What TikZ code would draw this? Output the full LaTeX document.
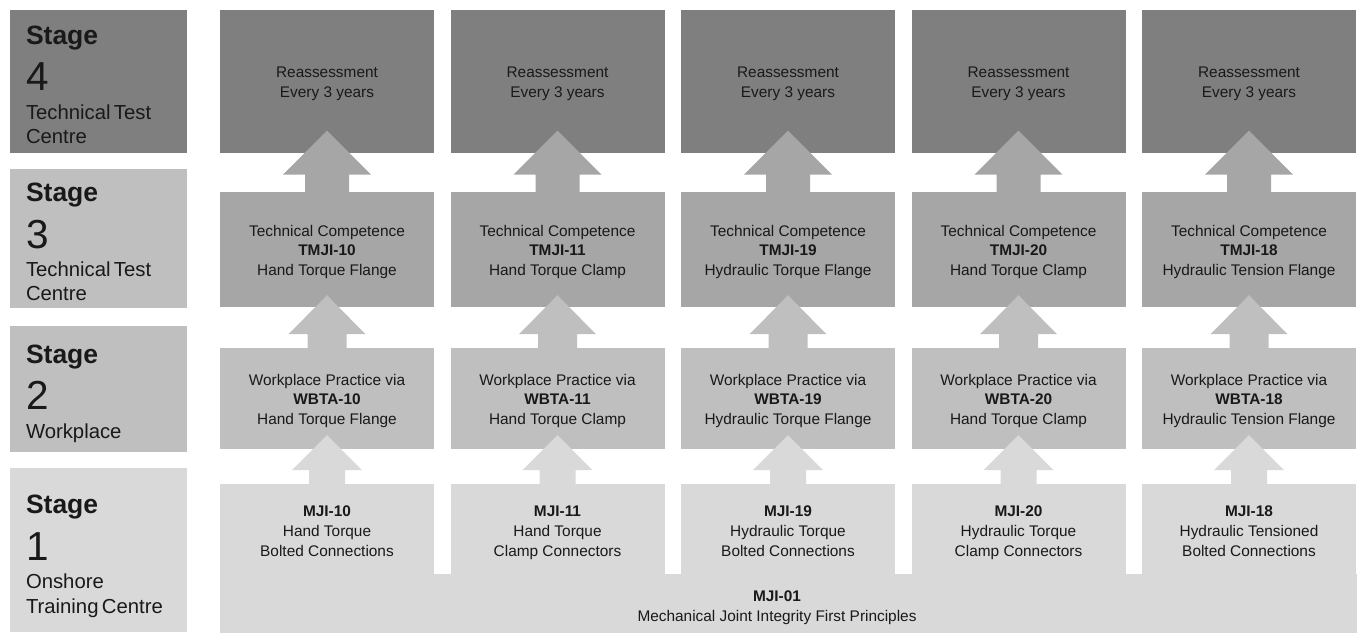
\documentclass[tikz,border=0pt]{standalone}
\usepackage{fontspec}
\setmainfont{Liberation Sans}
\usetikzlibrary{calc}
\setlength{\parindent}{0pt}
\definecolor{gfour}{HTML}{7F7F7F}
\definecolor{gthree}{HTML}{A6A6A6}
\definecolor{gtwo}{HTML}{BFBFBF}
\definecolor{gone}{HTML}{D9D9D9}

\begin{document}
\begin{tikzpicture}[x=1pt, y=-1pt,
  box/.style={inner sep=0pt, minimum width=214, text=black!90, align=center,
    font=\fontsize{15.4}{19.8}\selectfont,
    execute at begin node=\rule{0pt}{#1},
    execute at end node=\rule[-3.5pt]{0pt}{3.5pt}},
  box/.default=56pt,
  stagebox/.style={inner xsep=16pt, inner ysep=0pt, minimum width=177,
    text width=145, align=left, text=black!90,
    execute at begin node=\rule{0pt}{#1}},
  stagebox/.default=25.5pt,
  uparrow/.style n args={4}{to path={
    ($(\tikztostart.north)+(-#1,0)$) |- ($(\tikztotarget.south)+(-#2,#3)$)
    -- ($(\tikztotarget.south)+(0,-#4)$) -- ($(\tikztotarget.south)+(#2,#3)$)
    -| ($(\tikztostart.north)+(#1,0)$) -- cycle}}]
  \useasboundingbox (0,0) rectangle (1362,632);

  % stage labels
  \node[stagebox, fill=gfour, minimum height=143] (st4) at (98.5,81.5)
    {{\fontsize{26.5}{32}\selectfont\bfseries Stage\par}{\fontsize{40.5}{46}\selectfont 4\par}{\fontsize{20.3}{29}\selectfont Technical Test\par}{\fontsize{20.3}{24.4}\selectfont Centre\par}};
  \node[stagebox, fill=gtwo, minimum height=139] (st3) at (98.5,238.5)
    {{\fontsize{26.5}{32}\selectfont\bfseries Stage\par}{\fontsize{40.5}{47}\selectfont 3\par}{\fontsize{20.3}{28}\selectfont Technical Test\par}{\fontsize{20.3}{24.4}\selectfont Centre\par}};
  \node[stagebox=27.5pt, fill=gtwo, minimum height=126] (st2) at (98.5,389)
    {{\fontsize{26.5}{32}\selectfont\bfseries Stage\par}{\fontsize{40.5}{46}\selectfont 2\par}{\fontsize{20.3}{29}\selectfont Workplace\par}};
  \node[stagebox=31.5pt, fill=gone, minimum height=164] (st1) at (98.5,550)
    {{\fontsize{26.5}{32}\selectfont\bfseries Stage\par}{\fontsize{40.5}{47}\selectfont 1\par}{\fontsize{20.3}{28}\selectfont Onshore\par}{\fontsize{20.3}{25}\selectfont Training Centre\par}};

  % stage 4
  \node[box=36pt, fill=gfour, minimum height=143] (re1) at (327,81.5) {Reassessment\\Every 3 years};
  \node[box=36pt, fill=gfour, minimum height=143] (re2) at (557.5,81.5) {Reassessment\\Every 3 years};
  \node[box=36pt, fill=gfour, minimum height=143] (re3) at (788,81.5) {Reassessment\\Every 3 years};
  \node[box=36pt, fill=gfour, minimum height=143] (re4) at (1018.5,81.5) {Reassessment\\Every 3 years};
  \node[box=36pt, fill=gfour, minimum height=143] (re5) at (1249,81.5) {Reassessment\\Every 3 years};

  % stage 3
  \node[box, fill=gthree, minimum height=115] (tc1) at (327,249.5)
    {Technical Competence\\\textbf{TMJI-10}\\Hand Torque Flange};
  \node[box, fill=gthree, minimum height=115] (tc2) at (557.5,249.5)
    {Technical Competence\\\textbf{TMJI-11}\\Hand Torque Clamp};
  \node[box, fill=gthree, minimum height=115] (tc3) at (788,249.5)
    {Technical Competence\\\textbf{TMJI-19}\\Hydraulic Torque Flange};
  \node[box, fill=gthree, minimum height=115] (tc4) at (1018.5,249.5)
    {Technical Competence\\\textbf{TMJI-20}\\Hand Torque Clamp};
  \node[box, fill=gthree, minimum height=115] (tc5) at (1249,249.5)
    {Technical Competence\\\textbf{TMJI-18}\\Hydraulic Tension Flange};

  % stage 2
  \node[box, fill=gtwo, minimum height=101] (wp1) at (327,398.5)
    {Workplace Practice via\\\textbf{WBTA-10}\\Hand Torque Flange};
  \node[box, fill=gtwo, minimum height=101] (wp2) at (557.5,398.5)
    {Workplace Practice via\\\textbf{WBTA-11}\\Hand Torque Clamp};
  \node[box, fill=gtwo, minimum height=101] (wp3) at (788,398.5)
    {Workplace Practice via\\\textbf{WBTA-19}\\Hydraulic Torque Flange};
  \node[box, fill=gtwo, minimum height=101] (wp4) at (1018.5,398.5)
    {Workplace Practice via\\\textbf{WBTA-20}\\Hand Torque Clamp};
  \node[box, fill=gtwo, minimum height=101] (wp5) at (1249,398.5)
    {Workplace Practice via\\\textbf{WBTA-18}\\Hydraulic Tension Flange};

  % stage 1
  \node[box, fill=gone, minimum width=1137, minimum height=57] (base) at (788.5,603.5) {};
  \node[box, fill=gone, minimum height=92] (mj1) at (327,530)
    {\textbf{MJI-10}\\Hand Torque\\Bolted Connections};
  \node[box, fill=gone, minimum height=92] (mj2) at (557.5,530)
    {\textbf{MJI-11}\\Hand Torque\\Clamp Connectors};
  \node[box, fill=gone, minimum height=92] (mj3) at (788,530)
    {\textbf{MJI-19}\\Hydraulic Torque\\Bolted Connections};
  \node[box, fill=gone, minimum height=92] (mj4) at (1018.5,530)
    {\textbf{MJI-20}\\Hydraulic Torque\\Clamp Connectors};
  \node[box, fill=gone, minimum height=92] (mj5) at (1249,530)
    {\textbf{MJI-18}\\Hydraulic Tensioned\\Bolted Connections};
  \node[box=36pt, minimum width=0] (mj01) at (777,605.5)
    {\textbf{MJI-01}\\Mechanical Joint Integrity First Principles};

  \foreach \i in {1,...,5} {
    \fill[gthree, uparrow={22}{44}{21.5}{22.5}] (tc\i) to (re\i);
    \fill[gtwo, uparrow={19.5}{38.5}{27}{12}] (wp\i) to (tc\i);
    \fill[gone, uparrow={18}{35}{21}{14}] (mj\i) to (wp\i);
  }
\end{tikzpicture}
\end{document}
